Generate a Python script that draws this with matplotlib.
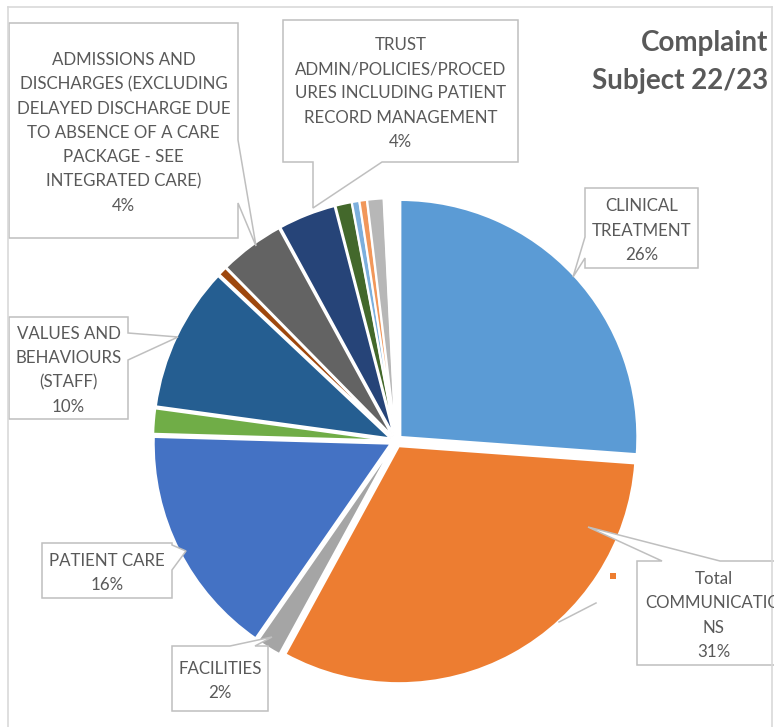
import matplotlib
matplotlib.use("Agg")
import matplotlib.pyplot as plt
from matplotlib.patches import Polygon, Rectangle

# ----------------------------
# Data
# ----------------------------
subjects = [
    "CLINICAL TREATMENT", "Total COMMUNICATIONS", "FACILITIES", "PATIENT CARE",
    "OTHER 1", "VALUES AND BEHAVIOURS (STAFF)", "OTHER 2",
    "ADMISSIONS AND DISCHARGES", "TRUST ADMIN/POLICIES/PROCEDURES",
    "OTHER 3", "OTHER 4", "OTHER 5", "OTHER 6", "GAP",
]
shares = [26.0, 31.6, 1.7, 15.7, 1.7, 9.8, 0.6, 4.4, 3.9, 1.1, 0.5, 0.5, 1.1, 0.8]
colors = ["#5B9BD5", "#ED7D31", "#A5A5A5", "#4472C4", "#70AD47", "#255E91", "#9E480E",
          "#636363", "#264478", "#43682B", "#7CAFDD", "#F1975A", "#B7B7B7", "none"]

# label text, box (x0, y0, x1, y1) in pixels, side of pointer, pointer base, tip
callouts = [
    ("CLINICAL\nTREATMENT\n26%", (585, 188, 698, 268), "left", (237, 258), (573, 277)),
    ("Total\nCOMMUNICATIO\nNS\n31%", (637, 561, 790, 665), "top", (662, 720), (588, 527)),
    ("FACILITIES\n2%", (172, 646, 268, 711), "top", (230, 255), (272, 637)),
    ("PATIENT CARE\n16%", (42, 543, 172, 598), "right", (545, 570), (186, 551)),
    ("VALUES AND\nBEHAVIOURS\n(STAFF)\n10%", (9, 317, 128, 419), "right", (333, 360), (178, 337)),
    ("ADMISSIONS AND\nDISCHARGES (EXCLUDING\nDELAYED DISCHARGE DUE\nTO ABSENCE OF A CARE\n"
     "PACKAGE - SEE\nINTEGRATED CARE)\n4%", (9, 23, 238, 238), "right", (140, 203), (256, 246)),
    ("TRUST\nADMIN/POLICIES/PROCED\nURES INCLUDING PATIENT\nRECORD MANAGEMENT\n4%",
     (283, 20, 518, 162), "bottom", (313, 382), (313, 208)),
]

W, H = 774, 727
TEXT = "#595959"
EDGE = "#BFBFBF"
plt.rcParams['font.family'] = ['Lato', 'DejaVu Sans']


def callout_shape(box, side, base, tip):
    x0, y0, x1, y1 = box
    b0, b1 = base
    pts = [(x0, y0)]
    if side == "top":
        pts += [(b0, y0), tip, (b1, y0)]
    pts.append((x1, y0))
    if side == "right":
        pts += [(x1, b0), tip, (x1, b1)]
    pts.append((x1, y1))
    if side == "bottom":
        pts += [(b1, y1), tip, (b0, y1)]
    pts.append((x0, y1))
    if side == "left":
        pts += [(x0, b1), tip, (x0, b0)]
    return pts


fig = plt.figure(figsize=(W / 100, H / 100), dpi=100)

# pie
cx, cy, r = 396, 441, 237
ax = fig.add_axes([(cx - r) / W, (H - cy - r) / H, 2 * r / W, 2 * r / H])
ax.pie(shares, colors=colors, startangle=90, counterclock=False,
       explode=[0.025] * len(shares),
       wedgeprops=dict(edgecolor="white", linewidth=1.5))
ax.set_aspect("auto")
ax.set_xlim(-1, 1)
ax.set_ylim(-1, 1)
ax.axis("off")

# overlay in pixel coordinates for labels and frame
lay = fig.add_axes([0, 0, 1, 1], zorder=5)
lay.set_xlim(0, W)
lay.set_ylim(H, 0)
lay.axis("off")
lay.patch.set_alpha(0)

# chart frame
lay.plot([8, 772], [7, 7], color="#D9D9D9", lw=1.2)
lay.plot([8, 8], [7, H], color="#D9D9D9", lw=1.2)
lay.plot([772, 772], [7, H], color="#D9D9D9", lw=1.2)

for text, box, side, base, tip in callouts:
    lay.add_patch(Polygon(callout_shape(box, side, base, tip), closed=True,
                          facecolor="white", edgecolor=EDGE, lw=1.1))
    x0, y0, x1, y1 = box
    lay.text((x0 + x1) / 2, (y0 + y1) / 2 + 2.5, text, ha="center", va="center",
             fontsize=12.2, color=TEXT, linespacing=1.63, clip_on=True)

# stray leader line and legend marker left over from the original chart
lay.plot([596, 559], [603, 622], color=EDGE, lw=1.1)
lay.add_patch(Rectangle((610, 573), 6, 6, facecolor="#ED7D31", edgecolor="none"))

lay.text(768, 62, "Complaint\nSubject 22/23", ha="right", va="center",
         fontsize=20, fontweight="bold", color=TEXT, linespacing=1.55)

fig.savefig("out.png", dpi=100)
